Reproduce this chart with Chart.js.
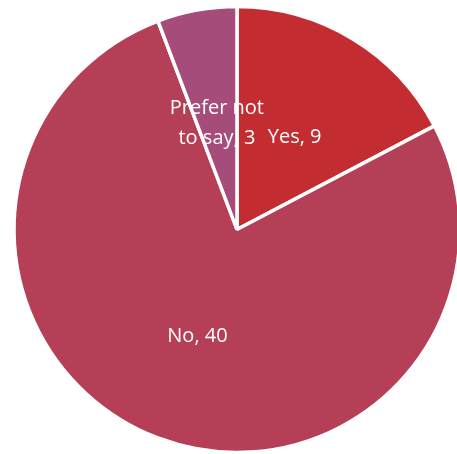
<!DOCTYPE html>
<html>
<head>
<meta charset="utf-8">
<script src="https://cdn.jsdelivr.net/npm/chart.js@4/dist/chart.umd.min.js"></script>
<style>
  html, body { margin: 0; padding: 0; background: #fff; overflow: hidden; }
  #wrap { position: absolute; left: 0; top: 0; width: 474px; height: 459px; }
</style>
</head>
<body>
<div id="wrap"><canvas id="chart"></canvas></div>
<script>
const categories = ['Yes', 'No', 'Prefer not to say'];
const counts = [9, 40, 3];
const sliceColors = ['#C32D31', '#B43F56', '#A54C7A'];

// data labels drawn inside each slice, "Category, value", wrapped like Excel does
const sliceLabels = {
  id: 'sliceLabels',
  afterDatasetsDraw(chart) {
    const ctx = chart.ctx;
    const meta = chart.getDatasetMeta(0);
    ctx.save();
    ctx.font = '20px "Open Sans", sans-serif';
    ctx.fillStyle = '#ffffff';
    ctx.textAlign = 'center';
    ctx.textBaseline = 'middle';
    meta.data.forEach((arc, i) => {
      const pos = arc.tooltipPosition();
      const text = categories[i] + ', ' + counts[i];
      const words = text.split(' ');
      const lines = [];
      let cur = '';
      words.forEach(w => {
        const test = cur ? cur + ' ' + w : w;
        if (cur && ctx.measureText(test).width > 105) {
          lines.push(cur);
          cur = w;
        } else {
          cur = test;
        }
      });
      lines.push(cur);
      const lh = 30;
      const y0 = pos.y + 3 - (lines.length - 1) * lh / 2;
      lines.forEach((ln, k) => ctx.fillText(ln, pos.x, y0 + k * lh));
    });
    ctx.restore();
  }
};

new Chart(document.getElementById('chart'), {
  type: 'pie',
  data: {
    labels: categories,
    datasets: [{
      data: counts,
      backgroundColor: sliceColors,
      borderColor: '#ffffff',
      borderWidth: 3.5,
      radius: 223
    }]
  },
  options: {
    responsive: true,
    maintainAspectRatio: false,
    animation: false,
    layout: { padding: 0 },
    plugins: {
      legend: { display: false },
      tooltip: { enabled: false }
    }
  },
  plugins: [sliceLabels]
});
</script>
</body>
</html>
